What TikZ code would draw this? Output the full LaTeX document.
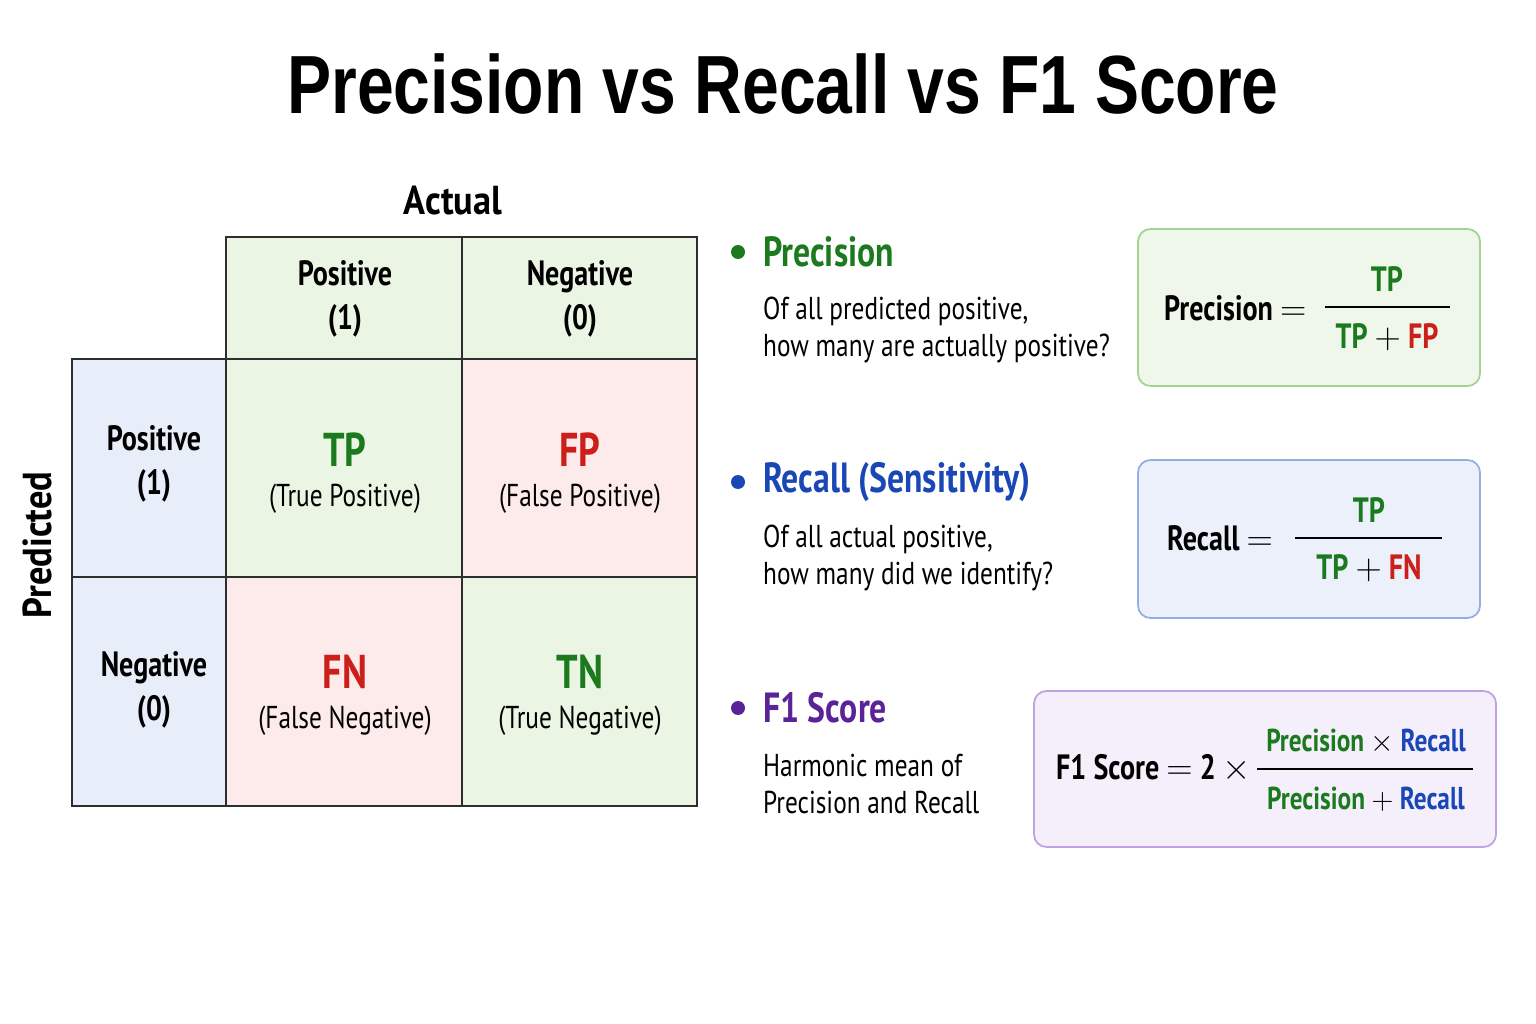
\documentclass[tikz,border=0pt]{standalone}
\usepackage{fontspec}
\setmainfont{PT Sans}[FakeStretch=0.8]
\newfontfamily\titlefont{Liberation Sans}[FakeStretch=0.8]
\newfontfamily\sidefont{PT Sans}[FakeStretch=0.9]
\usetikzlibrary{positioning}

\definecolor{tpgreen}{HTML}{1B7A1E}
\definecolor{fpred}{HTML}{CC1F1A}
\definecolor{recblue}{HTML}{1A47B5}
\definecolor{fpurple}{HTML}{5B2398}
\definecolor{cellgreen}{HTML}{EBF5E4}
\definecolor{cellred}{HTML}{FCEBEA}
\definecolor{cellblue}{HTML}{E8EEF9}
\definecolor{gridline}{HTML}{2E2E2E}
\definecolor{boxgreen}{HTML}{EFF7EA}
\definecolor{boxgreenline}{HTML}{A3D392}
\definecolor{boxblue}{HTML}{EBF0FB}
\definecolor{boxblueline}{HTML}{93AEE3}
\definecolor{boxpurple}{HTML}{F4EFFB}
\definecolor{boxpurpleline}{HTML}{BFA2E6}

\tikzset{
  title/.style={font=\titlefont\bfseries\fontsize{47}{56}\selectfont},
  axislabel/.style={font=\sidefont\bfseries\fontsize{23}{27}\selectfont},
  head/.style={font=\bfseries\fontsize{20}{25}\selectfont, align=center},
  cellkey/.style={font=\bfseries\fontsize{27}{32}\selectfont},
  cellsub/.style={font=\fontsize{18}{22}\selectfont},
  grid/.style={draw=gridline, line width=0.9pt},
  dot/.style={circle, inner sep=0pt, minimum size=0.28cm},
  bullethead/.style={font=\bfseries\fontsize{24}{29}\selectfont, anchor=west},
  desc/.style={font=\fontsize{18}{21.6}\selectfont, align=left, anchor=west},
  formbox/.style={rounded corners=0.25cm, line width=1pt},
  formula/.style={font=\bfseries\fontsize{20}{24}\selectfont},
  fracbar/.style={line width=0.8pt},
}

\begin{document}
\begin{tikzpicture}[x=0.02cm, y=-0.02cm]
  \useasboundingbox (0,0) rectangle (1536,1024);

  \node[title] (title) at (783,84) {Precision vs Recall vs F1 Score};

  % confusion matrix
  \node[axislabel] (actual) at (453,201) {Actual};
  \node[axislabel, rotate=90] (predicted) at (37,545) {Predicted};

  \draw[grid, fill=cellgreen] (226,237) rectangle (462,359);
  \draw[grid, fill=cellgreen] (462,237) rectangle (697,359);
  \draw[grid, fill=cellblue] (72,359) rectangle (226,577);
  \draw[grid, fill=cellblue] (72,577) rectangle (226,806);
  \draw[grid, fill=cellgreen] (226,359) rectangle (462,577);
  \draw[grid, fill=cellred] (462,359) rectangle (697,577);
  \draw[grid, fill=cellred] (226,577) rectangle (462,806);
  \draw[grid, fill=cellgreen] (462,577) rectangle (697,806);

  \node[head] (actpos) at (345,299) {Positive\\(1)};
  \node[head] (actneg) at (580,299) {Negative\\(0)};
  \node[head] (predpos) at (154,464) {Positive\\(1)};
  \node[head] (predneg) at (154,690) {Negative\\(0)};

  \node[cellkey, text=tpgreen] (tp) at (345,450) {TP};
  \node[cellsub] (tpsub) at (345,499) {(True Positive)};
  \node[cellkey, text=fpred] (fp) at (580,450) {FP};
  \node[cellsub] (fpsub) at (580,499) {(False Positive)};
  \node[cellkey, text=fpred] (fn) at (345,672) {FN};
  \node[cellsub] (fnsub) at (345,721) {(False Negative)};
  \node[cellkey, text=tpgreen] (tn) at (580,672) {TN};
  \node[cellsub] (tnsub) at (580,721) {(True Negative)};

  % precision
  \node[dot, fill=tpgreen] (precdot) at (738,252) {};
  \node[bullethead, text=tpgreen] (prechead) at (757,252) {Precision};
  \node[desc] (precdesc) at (757,330) {Of all predicted positive,\\how many are actually positive?};
  \draw[formbox, fill=boxgreen, draw=boxgreenline] (1138,229) rectangle (1480,386);
  \node[formula, anchor=west] (precname) at (1158,308) {Precision $=$};
  \coordinate (precbarl) at (1325,307);
  \coordinate (precbarr) at (1450,307);
  \draw[fracbar] (precbarl) -- (precbarr);
  \node[formula, text=tpgreen] (precnum) at (1387,279) {TP};
  \node[formula] (precden) at (1387,337) {\textcolor{tpgreen}{TP} $+$ \textcolor{fpred}{FP}};

  % recall
  \node[dot, fill=recblue] (recdot) at (738,482) {};
  \node[bullethead, text=recblue] (rechead) at (757,482) {Recall (Sensitivity)};
  \node[desc] (recdesc) at (757,558) {Of all actual positive,\\how many did we identify?};
  \draw[formbox, fill=boxblue, draw=boxblueline] (1138,460) rectangle (1480,618);
  \node[formula, anchor=west] (recname) at (1161,538) {Recall $=$};
  \coordinate (recbarl) at (1295,538);
  \coordinate (recbarr) at (1442,538);
  \draw[fracbar] (recbarl) -- (recbarr);
  \node[formula, text=tpgreen] (recnum) at (1369,510) {TP};
  \node[formula] (recden) at (1369,568) {\textcolor{tpgreen}{TP} $+$ \textcolor{fpred}{FN}};

  % f1 score
  \node[dot, fill=fpurple] (fdot) at (738,708) {};
  \node[bullethead, text=fpurple] (fhead) at (757,708) {F1 Score};
  \node[desc] (fdesc) at (757,784) {Harmonic mean of\\Precision and Recall};
  \draw[formbox, fill=boxpurple, draw=boxpurpleline] (1034,691) rectangle (1496,847);
  \node[formula, anchor=west] (fname) at (1050,768) {F1 Score $=$ 2 $\times$};
  \coordinate (fbarl) at (1257,769);
  \coordinate (fbarr) at (1473,769);
  \draw[fracbar] (fbarl) -- (fbarr);
  \node[formula, font=\bfseries\fontsize{18}{22}\selectfont] (fnum) at (1366,742) {\textcolor{tpgreen}{Precision} $\times$ \textcolor{recblue}{Recall}};
  \node[formula, font=\bfseries\fontsize{18}{22}\selectfont] (fden) at (1366,799) {\textcolor{tpgreen}{Precision} $+$ \textcolor{recblue}{Recall}};
\end{tikzpicture}
\end{document}
